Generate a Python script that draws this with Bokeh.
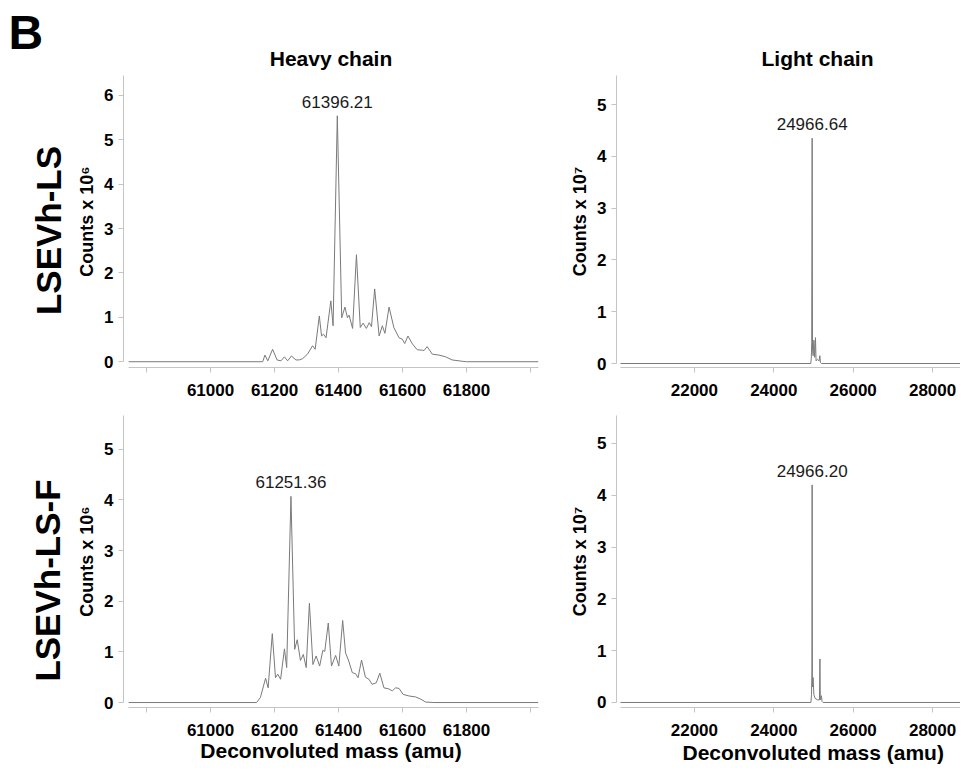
import math
from bokeh.plotting import figure
from bokeh.layouts import column, row
from bokeh.models import FixedTicker, Label, Range1d, ColumnDataSource
from bokeh.embed import file_html
from bokeh.resources import INLINE
from bokeh.core.properties import value

FONT = "Liberation Sans"
LINE = "#7a7a7a"
AXIS = "#c4c4c4"

# ---------------- data ----------------
# Heavy chain, LSEVh-LS  (counts x 10^6)
hc_ls_mass = [60744, 61163, 61170, 61179, 61194, 61208, 61220, 61231, 61241, 61253,
              61267, 61277, 61288, 61303, 61319, 61327, 61340, 61347, 61353, 61361,
              61376, 61383, 61396.21, 61410, 61420, 61428, 61433, 61444, 61456, 61468,
              61477, 61487, 61496, 61503, 61513, 61527, 61537, 61545, 61558, 61573,
              61589, 61599, 61607, 61617, 61631, 61646, 61662, 61667, 61677, 61693,
              61714, 61735, 61755, 61787, 61800, 62025]
hc_ls_counts = [0, 0, 0.15, 0.02, 0.28, 0.04, 0.02, 0.11, 0.02, 0.13,
                0.04, 0.04, 0.07, 0.17, 0.36, 0.28, 1.03, 0.58, 0.62, 0.54,
                1.37, 0.81, 5.54, 0.99, 1.23, 0.99, 1.05, 0.75, 2.41, 0.77,
                0.87, 0.75, 0.88, 0.79, 1.64, 0.58, 0.81, 0.64, 1.23, 0.77,
                0.54, 0.51, 0.41, 0.58, 0.40, 0.27, 0.26, 0.25, 0.34, 0.17,
                0.15, 0.11, 0.04, 0.01, 0, 0]

# Heavy chain, LSEVh-LS-F  (counts x 10^6)
hc_lsf_mass = [60744, 61144, 61156, 61172, 61180, 61193, 61203, 61210, 61219, 61231,
               61238, 61251.36, 61263, 61271, 61281, 61290, 61299, 61309, 61320, 61330,
               61341, 61351, 61357, 61368, 61378, 61391, 61401, 61413, 61422, 61432,
               61443, 61453, 61461, 61472, 61484, 61495, 61505, 61518, 61529, 61542,
               61557, 61568, 61578, 61589, 61602, 61620, 61641, 61656, 61672, 61698,
               62025]
hc_lsf_counts = [0, 0, 0.10, 0.48, 0.29, 1.36, 0.49, 0.56, 0.46, 1.06,
                 0.69, 4.07, 1.05, 1.24, 0.83, 0.95, 0.69, 1.96, 0.75, 0.92,
                 0.72, 1.03, 1.01, 1.57, 0.72, 0.93, 0.72, 1.62, 0.98, 0.82,
                 0.59, 0.57, 0.49, 0.84, 0.50, 0.46, 0.36, 0.39, 0.58, 0.29,
                 0.27, 0.23, 0.29, 0.28, 0.16, 0.13, 0.11, 0.07, 0.01, 0,
                 0]

# Light chain, LSEVh-LS  (counts x 10^7)
lc_ls_mass = [20138, 24930, 24945, 24955, 24966.64, 24975, 24990, 25010, 25030, 25050,
              25065, 25100, 25140, 25160, 25175, 25200, 28703]
lc_ls_counts = [0, 0, 0.10, 0.40, 4.35, 0.30, 0.15, 0.45, 0.12, 0.50,
                0.05, 0.08, 0.05, 0.15, 0.02, 0, 0]

# Light chain, LSEVh-LS-F  (counts x 10^7)
lc_lsf_mass = [20138, 24935, 24950, 24960, 24966.20, 24972, 24990, 25010, 25040, 25100,
               25150, 25162, 25172, 25200, 25215, 25240, 28703]
lc_lsf_counts = [0, 0, 0.15, 0.55, 4.20, 0.30, 0.48, 0.15, 0.08, 0.05,
                 0.05, 0.84, 0.05, 0.13, 0.02, 0, 0]

# annotated peaks
peak_labels = ["61396.21", "24966.64", "61251.36", "24966.20"]
peak_mass = [61396.21, 24966.64, 61251.36, 24966.20]
peak_height = [5.54, 4.35, 4.07, 4.20]

heavy_ticks = [60800, 61000, 61200, 61400, 61600, 61800, 62000]
light_ticks = [22000, 24000, 26000, 28000]
column_titles = ["Heavy chain", "Light chain"]
row_titles = ["LSEVh-LS", "LSEVh-LS-F"]
panel_letter = "B"
x_title = "Deconvoluted mass (amu)"
y_titles = ["Counts x 10\u2076", "Counts x 10\u2077"]


def make(w, h, xr, yr, ml, mr, mt, mb, xticks, yticks, xbounds, ybounds, title_loc):
    p = figure(width=w, height=h, x_range=Range1d(*xr), y_range=Range1d(*yr),
               min_border_left=ml, min_border_right=mr, min_border_top=mt,
               min_border_bottom=mb, output_backend="svg", toolbar_location=None,
               title_location=title_loc)
    p.outline_line_color = None
    p.xgrid.visible = False
    p.ygrid.visible = False
    p.background_fill_color = "white"
    p.border_fill_color = "white"
    for ax in (p.xaxis[0], p.yaxis[0]):
        ax.axis_line_color = AXIS
        ax.axis_line_width = 1
        ax.major_tick_line_color = AXIS
        ax.major_tick_out = 5
        ax.major_tick_in = 0
        ax.minor_tick_line_color = None
        ax.major_label_text_font = FONT
        ax.major_label_text_font_size = "17px"
        ax.major_label_text_font_style = "bold"
        ax.major_label_text_color = "black"
        ax.major_label_standoff = 5
        ax.axis_label_text_font = FONT
        ax.axis_label_text_font_style = "bold"
        ax.axis_label_text_color = "black"
    p.xaxis[0].ticker = FixedTicker(ticks=xticks, minor_ticks=[])
    p.yaxis[0].ticker = FixedTicker(ticks=yticks, minor_ticks=[])
    p.xaxis[0].bounds = xbounds
    p.yaxis[0].bounds = ybounds
    p.xaxis[0].major_label_standoff = 11
    p.yaxis[0].axis_label_text_font_size = "18px"
    p.yaxis[0].axis_label_standoff = 4
    p.xaxis[0].axis_label_text_font_size = "21px"
    p.xaxis[0].axis_label_standoff = 0
    if title_loc is not None:
        p.title.align = "center"
        p.title.text_font = FONT
        p.title.text_font_size = "21px"
        p.title.text_font_style = "bold"
        p.title.text_color = "black"
    return p


def add_peak(p, i):
    src = ColumnDataSource(dict(x=[peak_mass[i]], y=[peak_height[i]], t=[peak_labels[i]]))
    p.text(x="x", y="y", text="t", source=src, text_align="center",
           text_baseline="middle", y_offset=-14, text_font=value(FONT),
           text_font_size="17px", text_color="#1a1a1a")


heavy_overrides = {60800: "", 62000: ""}

# left strip with the panel letter and the row labels
side = figure(width=70, height=773, x_range=Range1d(0, 1), y_range=Range1d(0, 1),
              x_axis_type=None, y_axis_type=None, min_border=0,
              output_backend="svg", toolbar_location=None, title_location=None)
side.outline_line_color = None
side.xgrid.visible = False
side.ygrid.visible = False
side.add_layout(Label(x=8, y=741, x_units="screen", y_units="screen", text=panel_letter,
                      text_font=FONT, text_font_size="48px", text_font_style="bold",
                      text_align="left", text_baseline="alphabetic", text_color="black"))
side.add_layout(Label(x=48, y=543, x_units="screen", y_units="screen", text=row_titles[0],
                      angle=math.pi / 2, text_font=FONT, text_font_size="35px",
                      text_font_style="bold", text_align="center", text_baseline="middle",
                      text_color="black"))
side.add_layout(Label(x=47, y=193, x_units="screen", y_units="screen", text=row_titles[1],
                      angle=math.pi / 2, text_font=FONT, text_font_size="35px",
                      text_font_style="bold", text_align="center", text_baseline="middle",
                      text_color="black"))

# top-left: heavy chain, LSEVh-LS
f1 = make(490, 405, (60728, 62025), (-0.13, 6.447), 53, 22, 75, 36,
          heavy_ticks, [0, 1, 2, 3, 4, 5, 6], (60744, 62025), (0, 6.447), "above")
f1.title.text = column_titles[0]
f1.title.standoff = 12
f1.xaxis[0].major_label_overrides = heavy_overrides
f1.yaxis[0].axis_label = y_titles[0]
f1.line(hc_ls_mass, hc_ls_counts, line_color=LINE, line_width=1)
add_peak(f1, 0)

# top-right: light chain, LSEVh-LS (title shifted right, as in the original crop)
f2 = make(400, 405, (20038, 28703), (-0.077, 5.56), 56, 0, 75, 38,
          light_ticks, [0, 1, 2, 3, 4, 5], (20138, 28703), (0, 5.56), "above")
f2.title.text = column_titles[1]
f2.title.standoff = 12
f2.title.align = "left"
f2.title.offset = 145
f2.yaxis[0].axis_label = y_titles[1]
f2.line(lc_ls_mass, lc_ls_counts, line_color=LINE, line_width=1)
add_peak(f2, 1)

# bottom-left: heavy chain, LSEVh-LS-F
f3 = make(490, 368, (60728, 62025), (-0.098, 5.667), 53, 22, 8, 66,
          heavy_ticks, [0, 1, 2, 3, 4, 5], (60744, 62025), (0, 5.667), None)
f3.xaxis[0].major_label_overrides = heavy_overrides
f3.yaxis[0].axis_label = y_titles[0]
f3.xaxis[0].axis_label = x_title
f3.line(hc_lsf_mass, hc_lsf_counts, line_color=LINE, line_width=1)
add_peak(f3, 2)

# bottom-right: light chain, LSEVh-LS-F (x title shifted right, as in the original crop)
f4 = make(400, 368, (20038, 28703), (-0.097, 5.54), 56, 0, 10, 66,
          light_ticks, [0, 1, 2, 3, 4, 5], (20138, 28703), (0, 5.54), "below")
f4.title.text = x_title
f4.title.standoff = 0
f4.title.align = "left"
f4.title.offset = 66
f4.yaxis[0].axis_label = y_titles[1]
f4.line(lc_lsf_mass, lc_lsf_counts, line_color=LINE, line_width=1)
add_peak(f4, 3)

layout = row(side, column(row(f1, f2), row(f3, f4)))
open("out.html", "w").write(file_html(layout, INLINE))
